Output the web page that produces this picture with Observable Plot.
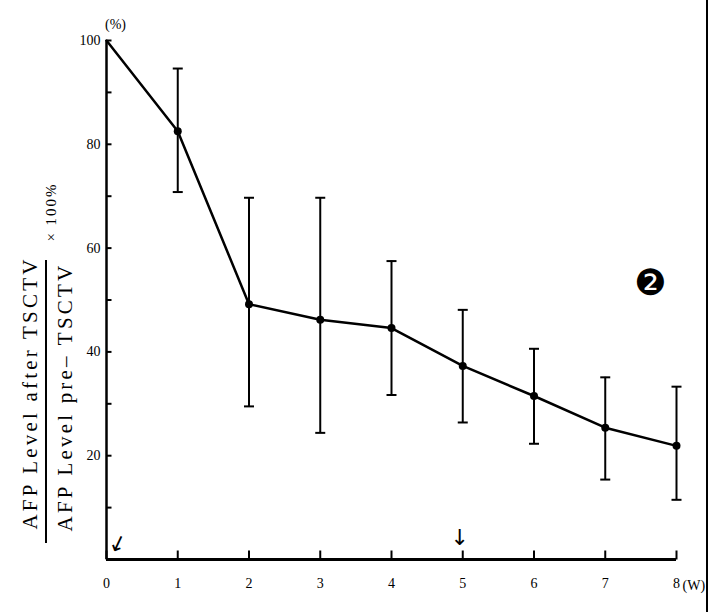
<!DOCTYPE html>
<html><head><meta charset="utf-8">
<script src="https://cdn.jsdelivr.net/npm/d3@7"></script>
<script src="https://cdn.jsdelivr.net/npm/@observablehq/plot@0.6"></script>
<style>
html,body{margin:0;padding:0;background:#fff;}
#wrap{position:relative;width:718px;height:612px;overflow:hidden;background:#fff;}
#border{position:absolute;left:706px;top:0;width:2px;height:612px;background:#000;z-index:2;}
#fracbar{position:absolute;left:45px;top:260px;width:2px;height:283px;background:#000;z-index:2;}
</style></head><body><div id="wrap"><div id="border"></div><div id="fracbar"></div></div>
<script>
// data
const weeks   = [0, 1, 2, 3, 4, 5, 6, 7, 8];
const meanPct = [100, 82.5, 49.2, 46.2, 44.6, 37.3, 31.5, 25.4, 21.9];
const errHigh = [null, 94.6, 69.7, 69.7, 57.5, 48.1, 40.6, 35.1, 33.3];
const errLow  = [null, 70.8, 29.5, 24.4, 31.7, 26.4, 22.3, 15.4, 11.5];
const xTicks = [0, 1, 2, 3, 4, 5, 6, 7, 8];
const yLabelTicks = [20, 40, 60, 80, 100];
const yMinorTicks = [10, 20, 30, 40, 50, 60, 70, 80, 90, 100];
const treatmentWeeks = [0, 5];
const numeratorText = "AFP Level after TSCTV";
const denominatorText = "AFP Level pre– TSCTV";
const factorText = "× 100%";

const rows = weeks.map((w, i) => ({w, v: meanPct[i], hi: errHigh[i], lo: errLow[i]}));
const errRows = rows.filter(d => d.hi != null);

const capSymbol = {draw(ctx) { ctx.moveTo(-5, 0); ctx.lineTo(5, 0); }};
const tickRight = {draw(ctx) { ctx.moveTo(0, 0); ctx.lineTo(5, 0); }};
const tickUp = {draw(ctx) { ctx.moveTo(0, 0); ctx.lineTo(0, -9); }};
const serif = "'Liberation Serif', 'DejaVu Serif', serif";

const chart = Plot.plot({
  width: 718, height: 612,
  marginLeft: 106, marginRight: 42, marginTop: 40, marginBottom: 53,
  style: {fontFamily: serif, background: "transparent", color: "#000"},
  x: {domain: [0, 8]},
  y: {domain: [0, 100]},
  marks: [
    // axis labels
    Plot.axisY({ticks: yLabelTicks, tickSize: 0, tickPadding: 6, fontSize: 14, label: null}),
    Plot.axisX({ticks: xTicks, tickSize: 0, tickPadding: 19, fontSize: 14, label: null}),
    // inward tick marks
    Plot.dot(yMinorTicks, {x: 0, y: d => d, symbol: tickRight, stroke: "#000", strokeWidth: 2}),
    Plot.dot(xTicks, {x: d => d, y: 0, symbol: tickUp, stroke: "#000", strokeWidth: 2}),
    Plot.text(["(W)"], {x: 8, y: 0, dx: 6, dy: 26, textAnchor: "start", fontSize: 14}),
    Plot.ruleX([0], {strokeWidth: 2.5}),
    Plot.ruleY([0], {strokeWidth: 3}),
    // data
    Plot.ruleX(errRows, {x: "w", y1: "lo", y2: "hi", strokeWidth: 2}),
    Plot.dot(errRows, {x: "w", y: "hi", symbol: capSymbol, stroke: "#000", strokeWidth: 2}),
    Plot.dot(errRows, {x: "w", y: "lo", symbol: capSymbol, stroke: "#000", strokeWidth: 2}),
    Plot.line(rows, {x: "w", y: "v", strokeWidth: 2.5}),
    Plot.dot(errRows, {x: "w", y: "v", r: 4, fill: "#000"}),
    // treatment arrows
    Plot.text(treatmentWeeks.filter(w => w === 0), {x: d => d, y: 0, text: () => "↓", dx: 11, dy: -15, rotate: 25, fontSize: 22, fontFamily: "DejaVu Sans"}),
    Plot.text(treatmentWeeks.filter(w => w === 5), {x: d => d, y: 0, text: () => "↓", dx: -3, dy: -22, fontSize: 22, fontFamily: "DejaVu Sans"}),
    // annotations
    Plot.text(["(%)"], {frameAnchor: "top-left", textAnchor: "middle", dx: 9, dy: -21, fontSize: 14}),
    Plot.text(["❷"], {frameAnchor: "right", textAnchor: "middle", dx: -26, dy: -17, fontSize: 36, fontFamily: "DejaVu Sans"}),
    // y label as a fraction
    Plot.text([numeratorText], {frameAnchor: "left", textAnchor: "middle", rotate: -90, dx: -76, dy: 93, fontSize: 21}),
    Plot.text([denominatorText], {frameAnchor: "left", textAnchor: "middle", rotate: -90, dx: -41, dy: 97, fontSize: 21}),
    Plot.text([factorText], {frameAnchor: "left", textAnchor: "middle", rotate: -90, dx: -55, dy: -88, fontSize: 15})
  ]
});
d3.select(chart).selectAll("text").filter(function() {
  const t = this.textContent; return t === numeratorText || t === denominatorText;
}).attr("letter-spacing", "3.2px");
d3.select(chart).selectAll("text").filter(function() { return this.textContent === factorText; })
  .attr("letter-spacing", "2px");
document.getElementById("wrap").appendChild(chart);
chart.style.position = "absolute"; chart.style.left = "0"; chart.style.top = "0"; chart.style.zIndex = "1";
</script>
</body></html>
